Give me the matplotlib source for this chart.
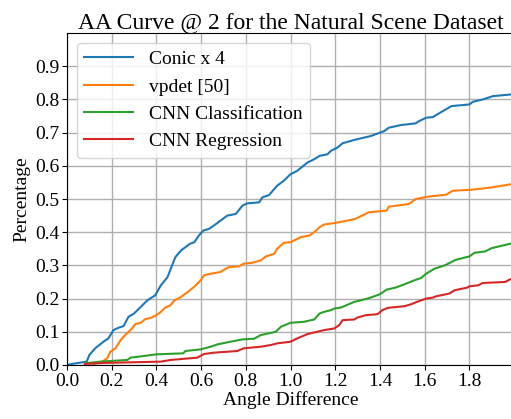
import matplotlib
matplotlib.use("Agg")
import matplotlib.pyplot as plt

plt.rcParams['font.family'] = ['Liberation Serif', 'DejaVu Serif']

# Conic x 4
conic_x = [0.0, 0.021, 0.088, 0.10, 0.126, 0.163, 0.185, 0.208, 0.23, 0.253, 0.275, 0.30, 0.33, 0.36,
           0.395, 0.42, 0.45, 0.47, 0.485, 0.51, 0.53, 0.55, 0.57, 0.59, 0.61, 0.635, 0.657, 0.687,
           0.717, 0.755, 0.785, 0.807, 0.86, 0.874, 0.904, 0.94, 0.97, 1.0, 1.03, 1.076, 1.106, 1.13,
           1.166, 1.18, 1.21, 1.233, 1.285, 1.36, 1.42, 1.44, 1.495, 1.56, 1.576, 1.607, 1.637, 1.674,
           1.72, 1.80, 1.816, 1.86, 1.905, 2.0]
conic_y = [0.0, 0.003, 0.01, 0.03, 0.05, 0.07, 0.08, 0.105, 0.112, 0.117, 0.145, 0.155, 0.175, 0.195,
           0.21, 0.24, 0.265, 0.30, 0.325, 0.345, 0.355, 0.365, 0.37, 0.39, 0.405, 0.41, 0.42, 0.435,
           0.45, 0.455, 0.48, 0.487, 0.49, 0.505, 0.512, 0.54, 0.555, 0.575, 0.585, 0.61, 0.62, 0.63,
           0.635, 0.645, 0.655, 0.668, 0.678, 0.69, 0.705, 0.715, 0.723, 0.728, 0.735, 0.745, 0.747, 0.762,
           0.78, 0.785, 0.793, 0.80, 0.81, 0.816]

# vpdet [50]
vpdet_x = [0.12, 0.157, 0.18, 0.194, 0.217, 0.24, 0.26, 0.284, 0.306, 0.33, 0.35, 0.38, 0.40, 0.42,
           0.44, 0.463, 0.478, 0.51, 0.54, 0.568, 0.598, 0.613, 0.643, 0.687, 0.703, 0.725, 0.77, 0.79,
           0.83, 0.867, 0.89, 0.927, 0.94, 0.97, 1.0, 1.03, 1.046, 1.084, 1.106, 1.13, 1.15, 1.19, 1.24,
           1.29, 1.32, 1.35, 1.43, 1.44, 1.53, 1.56, 1.614, 1.696, 1.726, 1.81, 1.90, 2.0]
vpdet_y = [0.003, 0.01, 0.02, 0.04, 0.05, 0.075, 0.09, 0.105, 0.123, 0.127, 0.138, 0.143, 0.15, 0.16,
           0.173, 0.18, 0.193, 0.205, 0.22, 0.235, 0.255, 0.27, 0.275, 0.28, 0.287, 0.295, 0.297, 0.305,
           0.308, 0.315, 0.327, 0.335, 0.35, 0.368, 0.37, 0.38, 0.385, 0.39, 0.40, 0.415, 0.423, 0.427, 0.433,
           0.44, 0.45, 0.46, 0.465, 0.477, 0.485, 0.50, 0.507, 0.513, 0.525, 0.528, 0.535, 0.546]

# CNN Classification
cls_x = [0.08, 0.15, 0.27, 0.284, 0.344, 0.40, 0.52, 0.53, 0.598, 0.643, 0.673, 0.747, 0.785, 0.837,
         0.867, 0.934, 0.957, 1.0, 1.06, 1.106, 1.13, 1.15, 1.18, 1.196, 1.226, 1.285, 1.345, 1.40, 1.43,
         1.47, 1.517, 1.554, 1.584, 1.607, 1.644, 1.69, 1.74, 1.80, 1.823, 1.87, 1.90, 2.0]
cls_y = [0.005, 0.01, 0.015, 0.022, 0.027, 0.032, 0.035, 0.042, 0.047, 0.055, 0.062, 0.072, 0.077, 0.079,
         0.09, 0.10, 0.115, 0.127, 0.13, 0.137, 0.155, 0.16, 0.165, 0.17, 0.173, 0.19, 0.20, 0.213, 0.227,
         0.233, 0.245, 0.255, 0.262, 0.275, 0.29, 0.30, 0.317, 0.327, 0.338, 0.342, 0.352, 0.368]

# CNN Regression
reg_x = [0.08, 0.164, 0.42, 0.463, 0.583, 0.613, 0.657, 0.762, 0.79, 0.867, 0.912, 0.94, 1.0, 1.03,
         1.076, 1.15, 1.196, 1.218, 1.233, 1.285, 1.30, 1.337, 1.39, 1.41, 1.435, 1.51, 1.54, 1.577,
         1.607, 1.637, 1.652, 1.71, 1.734, 1.79, 1.80, 1.84, 1.86, 1.96, 2.0]
reg_y = [0.003, 0.006, 0.01, 0.015, 0.022, 0.033, 0.037, 0.042, 0.05, 0.055, 0.06, 0.065, 0.07, 0.08,
         0.093, 0.105, 0.11, 0.12, 0.135, 0.137, 0.143, 0.15, 0.153, 0.165, 0.172, 0.177, 0.183, 0.193,
         0.20, 0.203, 0.207, 0.215, 0.225, 0.233, 0.237, 0.24, 0.247, 0.25, 0.264]

fig = plt.figure(figsize=(5.11, 4.19), dpi=100)
ax = fig.add_axes([0.1311, 0.129, 0.8748, 0.792])

ax.plot(conic_x, conic_y, color='#1f77b4', lw=1.5, label='Conic x 4')
ax.plot(vpdet_x, vpdet_y, color='#ff7f0e', lw=1.5, label='vpdet [50]')
ax.plot(cls_x, cls_y, color='#2ca02c', lw=1.5, label='CNN Classification')
ax.plot(reg_x, reg_y, color='#d62728', lw=1.5, label='CNN Regression')

ax.set_xlim(0, 2)
ax.set_ylim(0, 1)
ax.set_xticks([0.0, 0.2, 0.4, 0.6, 0.8, 1.0, 1.2, 1.4, 1.6, 1.8])
ax.set_yticks([0.0, 0.1, 0.2, 0.3, 0.4, 0.5, 0.6, 0.7, 0.8, 0.9])
ax.tick_params(labelsize=14, pad=2)
ax.grid(True, color='#b0b0b0', lw=1.0)
ax.set_axisbelow(True)

ax.set_xlabel('Angle Difference', fontsize=14, labelpad=1)
ax.set_ylabel('Percentage', fontsize=14, labelpad=3)
ax.set_title('AA Curve @ 2 for the Natural Scene Dataset', fontsize=17, pad=3)
ax.legend(loc='upper left', fontsize=14, handlelength=2.5)

fig.savefig('out.png', dpi=100)
